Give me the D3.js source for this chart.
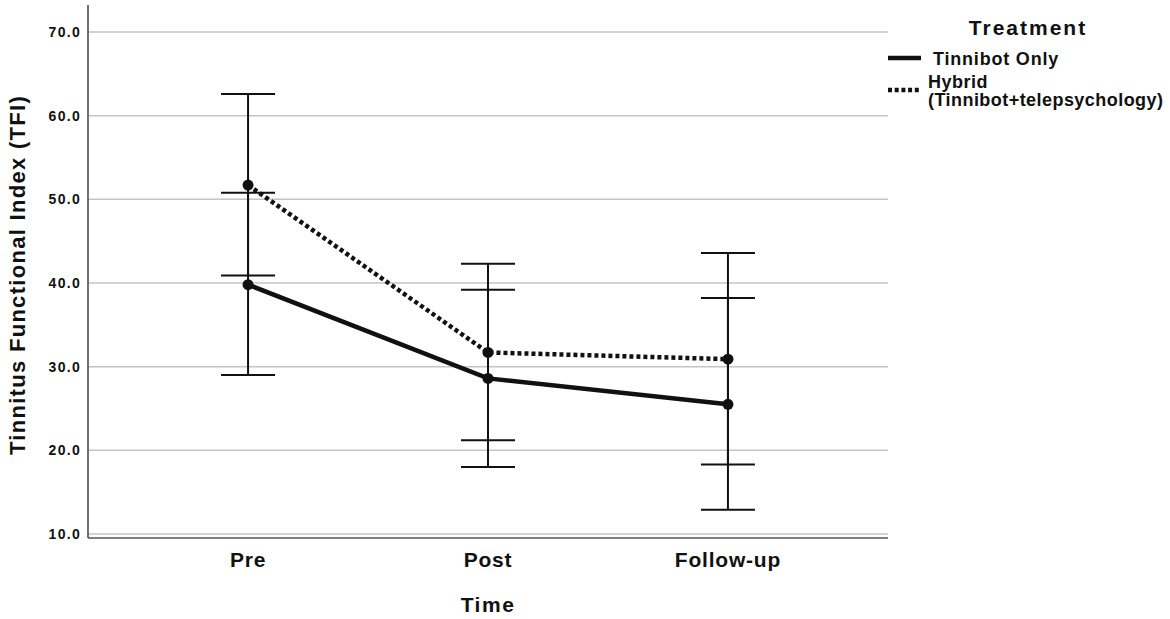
<!DOCTYPE html>
<meta charset="utf-8">
<html>
<head>
    <style>
        body { margin: 0; background: #fff; }
        text { font-family: "Liberation Sans", Arial, sans-serif; font-weight: bold; fill: #111; }
        .grid line { stroke: #c4c4c4; stroke-width: 1.5; }
    </style>
    <script src="https://d3js.org/d3.v7.min.js"></script>
</head>
<body>
  <svg width="1170" height="619"></svg>
  <script>

      // data (means with 95% CI)
      var times = ["Pre", "Post", "Follow-up"];
      var yTicks = [10, 20, 30, 40, 50, 60, 70];
      var seriesNames = ["Tinnibot Only", "Hybrid"];

      var onlyMean = [39.8, 28.6, 25.5];
      var onlyLow  = [29.0, 18.0, 12.9];
      var onlyHigh = [50.8, 39.2, 38.2];

      var hybridMean = [51.7, 31.7, 30.9];
      var hybridLow  = [40.9, 21.2, 18.3];
      var hybridHigh = [62.6, 42.3, 43.6];

      var svg = d3.select("svg");

      var plotL = 88, plotR = 888, plotT = 32, plotB = 534;

      var x = d3.scalePoint().domain(times).range([plotL, plotR]).padding(0.667),
          y = d3.scaleLinear().domain([10, 70]).range([plotB, plotT]);

      // gridlines
      svg.append("g")
         .attr("class", "grid")
         .selectAll("line")
         .data(yTicks)
         .enter().append("line")
         .attr("x1", plotL)
         .attr("x2", plotR)
         .attr("y1", function(d) { return y(d); })
         .attr("y2", function(d) { return y(d); });

      // axes lines
      svg.append("line")
         .attr("x1", plotL).attr("x2", plotL)
         .attr("y1", 5).attr("y2", plotB + 4)
         .attr("stroke", "#444").attr("stroke-width", 1.5);
      svg.append("line")
         .attr("x1", plotL).attr("x2", plotR)
         .attr("y1", plotB + 4).attr("y2", plotB + 4)
         .attr("stroke", "#555").attr("stroke-width", 1.5);

      // y tick labels
      svg.append("g")
         .selectAll("text")
         .data(yTicks)
         .enter().append("text")
         .attr("x", 81)
         .attr("y", function(d) { return y(d) + 5; })
         .attr("text-anchor", "end")
         .attr("font-size", "14px")
         .attr("letter-spacing", "1.3px")
         .text(function(d) { return d.toFixed(1); });

      // x tick labels
      svg.append("g")
         .selectAll("text")
         .data(times)
         .enter().append("text")
         .attr("x", function(d) { return x(d); })
         .attr("y", 567)
         .attr("text-anchor", "middle")
         .attr("font-size", "21px")
         .attr("letter-spacing", "0.8px")
         .text(function(d) { return d; });

      svg.append("text")
         .attr("x", (plotL + plotR) / 2)
         .attr("y", 612)
         .attr("text-anchor", "middle")
         .attr("font-size", "21px")
         .attr("letter-spacing", "1.5px")
         .text("Time");

      svg.append("text")
         .attr("transform", "translate(25,275) rotate(-90)")
         .attr("text-anchor", "middle")
         .attr("font-size", "22px")
         .attr("letter-spacing", "1.3px")
         .text("Tinnitus Functional Index (TFI)");

      // error bars
      function errorBars(low, high) {
          var g = svg.append("g").attr("stroke", "#111").attr("stroke-width", 2);
          times.forEach(function(t, i) {
              g.append("line")
               .attr("x1", x(t)).attr("x2", x(t))
               .attr("y1", y(low[i])).attr("y2", y(high[i]));
              [low[i], high[i]].forEach(function(v) {
                  g.append("line")
                   .attr("x1", x(t) - 27).attr("x2", x(t) + 27)
                   .attr("y1", y(v)).attr("y2", y(v));
              });
          });
      }
      errorBars(onlyLow, onlyHigh);
      errorBars(hybridLow, hybridHigh);

      var line = d3.line()
          .x(function(d, i) { return x(times[i]); })
          .y(function(d) { return y(d); });

      svg.append("path")
         .datum(hybridMean)
         .attr("d", line)
         .attr("fill", "none")
         .attr("stroke", "#111")
         .attr("stroke-width", 4.5)
         .attr("stroke-dasharray", "4,3");

      svg.append("path")
         .datum(onlyMean)
         .attr("d", line)
         .attr("fill", "none")
         .attr("stroke", "#111")
         .attr("stroke-width", 4.5);

      [onlyMean, hybridMean].forEach(function(vals) {
          svg.append("g")
             .selectAll("circle")
             .data(vals)
             .enter().append("circle")
             .attr("cx", function(d, i) { return x(times[i]); })
             .attr("cy", function(d) { return y(d); })
             .attr("r", 5.5)
             .attr("fill", "#111");
      });

      // legend
      var lg = svg.append("g");
      lg.append("text")
        .attr("x", 1028).attr("y", 35)
        .attr("text-anchor", "middle")
        .attr("font-size", "21px")
        .attr("letter-spacing", "2px")
        .text("Treatment");

      lg.append("line")
        .attr("x1", 888).attr("x2", 921)
        .attr("y1", 58).attr("y2", 58)
        .attr("stroke", "#111").attr("stroke-width", 4.5);
      lg.append("text")
        .attr("x", 933).attr("y", 65)
        .attr("font-size", "18px")
        .attr("letter-spacing", "0.8px")
        .text(seriesNames[0]);

      lg.append("line")
        .attr("x1", 888).attr("x2", 921)
        .attr("y1", 90).attr("y2", 90)
        .attr("stroke", "#111").attr("stroke-width", 4.5)
        .attr("stroke-dasharray", "4,2.7");
      lg.append("text")
        .attr("x", 928).attr("y", 88)
        .attr("font-size", "18px")
        .attr("letter-spacing", "0.5px")
        .text(seriesNames[1]);
      lg.append("text")
        .attr("x", 928).attr("y", 106)
        .attr("font-size", "18px")
        .attr("letter-spacing", "0.45px")
        .text("(Tinnibot+telepsychology)");

  </script>
</body>
</html>
